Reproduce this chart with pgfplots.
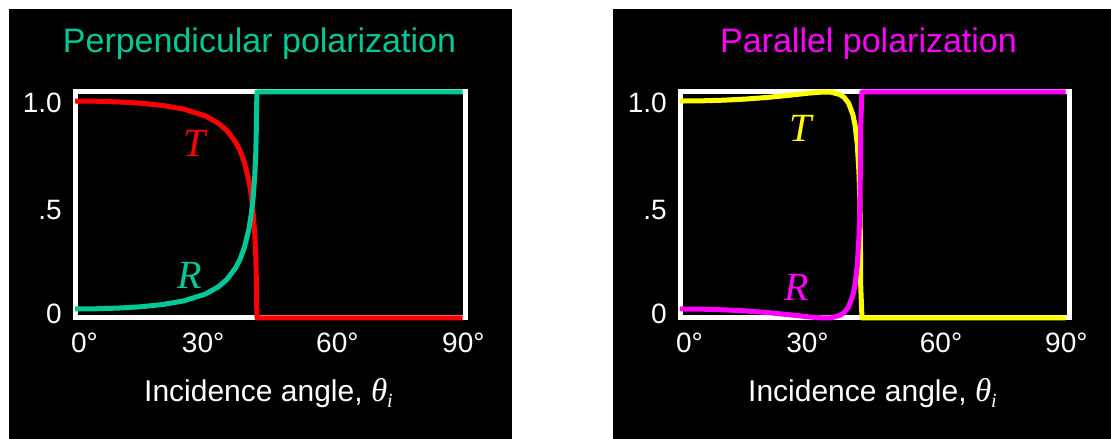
\documentclass[border=0pt]{standalone}
\usepackage{fontspec}
\setmainfont{Liberation Sans}
\newfontfamily\serif{Liberation Serif}
\usepackage{pgfplots}
\pgfplotsset{compat=1.18}
\definecolor{tealc}{RGB}{0,200,150}
\definecolor{redc}{RGB}{255,0,0}
\definecolor{yelc}{RGB}{255,255,0}
\definecolor{magc}{RGB}{255,0,255}

% Perpendicular (s) polarization: angle, R, T
\pgfplotstableread{
a      R       T
0      0.0400  0.9600
5      0.0409  0.9591
10     0.0439  0.9561
15     0.0495  0.9505
20     0.0591  0.9409
25     0.0755  0.9245
30     0.1058  0.8942
33     0.1379  0.8621
35     0.1711  0.8289
37     0.2224  0.7776
38     0.2600  0.7400
39     0.3122  0.6878
40     0.3905  0.6095
40.5   0.4483  0.5517
41     0.5310  0.4690
41.4   0.6366  0.3634
41.6   0.7233  0.2767
41.75  0.8405  0.1595
41.8   0.9310  0.0690
41.9   1.0000  0.0000
89.2   1.0000  0.0000
}\tabS

% Parallel (p) polarization: angle, R, T
\pgfplotstableread{
a      R       T
0      0.0400  0.9600
5      0.0391  0.9609
10     0.0363  0.9637
15     0.0315  0.9685
20     0.0244  0.9756
25     0.0151  0.9849
30     0.0046  0.9954
33     0.0002  0.9998
33.7   0.0000  1.0000
35     0.0012  0.9988
37     0.0113  0.9887
38     0.0243  0.9757
39     0.0492  0.9508
40     0.1001  0.8999
40.5   0.1472  0.8528
41     0.2285  0.7715
41.4   0.3555  0.6445
41.6   0.4792  0.5208
41.75  0.6758  0.3242
41.8   0.8512  0.1488
42.1   1.0000  0.0000
89.2   1.0000  0.0000
}\tabP

\pgfplotsset{panel/.style={
  scale only axis, width=391pt, height=226pt, anchor=south west,
  xmin=0, xmax=90, ymin=0, ymax=1, clip=false,
  axis line style={white, line width=5pt, line cap=rect},
  major tick length=0pt, tick style={draw=none},
  xtick={2.2,29.5,60.4,89.4}, xticklabels={0°,30°,60°,90°},
  ytick={0.018,0.478,0.954}, yticklabels={0,.5,1.0},
  ticklabel style={text=white, font=\fontsize{28}{30}\selectfont, inner sep=0pt},
  xticklabel style={anchor=north, yshift=-15pt},
  yticklabel style={anchor=east, xshift=-13pt},
  xlabel={Incidence angle, {\serif\itshape\fontsize{33}{34}\selectfont θ}\raisebox{-6pt}{\fontsize{20}{20}\selectfont\serif\itshape i}},
  xlabel style={at={(axis description cs:0.5,0)}, anchor=base, yshift=-83pt, xshift=-2pt, text=white, font=\fontsize{30}{34}\selectfont, inner sep=0pt},
  title style={at={(axis description cs:0.5,1)}, anchor=base, yshift=33pt, font=\fontsize{34}{38}\selectfont, inner sep=0pt},
}}

\begin{document}
\begin{tikzpicture}[x=1pt,y=1pt]
\useasboundingbox (0,0) rectangle (1111,439);
\fill[white] (0,0) rectangle (1111,439);
\fill[black] (9,0) rectangle (512,430);
\fill[black] (613,0) rectangle (1111,430);

\begin{axis}[panel, at={(75pt,121pt)},
  title={\color{tealc}Perpendicular polarization}, title style={xshift=-11pt}]
\addplot[redc, line width=5pt, line join=round] table[x=a,y=T]{\tabS};
\addplot[tealc, line width=5pt, line join=round] table[x=a,y=R]{\tabS};
\node[text=redc, font=\fontsize{40}{40}\selectfont\serif\itshape] at (axis cs:27.6,0.774) {T};
\node[text=tealc, font=\fontsize{40}{40}\selectfont\serif\itshape] at (axis cs:26.5,0.19) {R};
\end{axis}

\begin{axis}[panel, at={(680pt,121pt)}, width=389pt,
  title={\color{magc}Parallel polarization}, title style={xshift=-6pt}]
\addplot[yelc, line width=5pt, line join=round] table[x=a,y=T]{\tabP};
\addplot[magc, line width=5pt, line join=round] table[x=a,y=R]{\tabP};
\node[text=yelc, font=\fontsize{40}{40}\selectfont\serif\itshape] at (axis cs:27.8,0.84) {T};
\node[text=magc, font=\fontsize{40}{40}\selectfont\serif\itshape] at (axis cs:27.1,0.137) {R};
\end{axis}
\end{tikzpicture}
\end{document}
